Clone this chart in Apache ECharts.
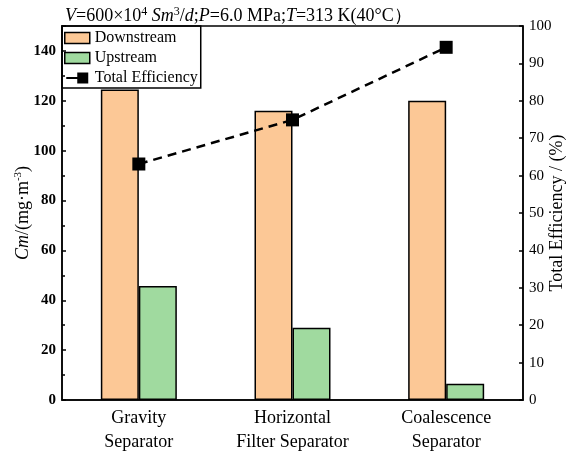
<!DOCTYPE html>
<html>
<head>
<meta charset="utf-8">
<script src="https://cdn.jsdelivr.net/npm/echarts@6/dist/echarts.min.js"></script>
<style>html,body{margin:0;padding:0;background:#fff}#chart{width:570px;height:457px}</style>
</head>
<body>
<div id="chart"></div>
<script>
// Separator types along the x axis
const categories = ['Gravity\nSeparator', 'Horizontal\nFilter Separator', 'Coalescence\nSeparator'];
// Oil mist concentration, mg/m3
const downstream = [124.5, 116, 120];
const upstream = [45.7, 29, 6.5];
// Total separation efficiency, %
const efficiency = [63.1, 74.9, 94.3];

const serif = 'Liberation Serif';
const chart = echarts.init(document.getElementById('chart'));
chart.setOption({
  animation: false,
  textStyle: { fontFamily: serif },
  title: {
    text: '{i|V}=600×10{s|4} {i|Sm}{s|3}/{i|d};{i|P}=6.0 MPa;{i|T}=313 K(40°C）',
    left: 60, top: 1,
    textStyle: {
      fontFamily: serif, fontSize: 18, fontWeight: 'normal', color: '#000',
      rich: {
        i: { fontFamily: serif, fontSize: 18, fontStyle: 'italic', color: '#000' },
        s: { fontFamily: serif, fontSize: 12, verticalAlign: 'top', padding: [0, 0, 9, 0], color: '#000' }
      }
    }
  },
  legend: {
    left: 62, top: 26, orient: 'vertical',
    itemWidth: 25, itemHeight: 11, itemGap: 4,
    padding: [4, 3, 2, 2],
    borderColor: '#000', borderWidth: 1.5,
    textStyle: { fontFamily: serif, fontSize: 16, color: '#000', lineHeight: 16 },
    data: [
      { name: 'Downstream', icon: 'rect', itemStyle: { borderColor: '#000', borderWidth: 1.5 } },
      { name: 'Upstream', icon: 'rect', itemStyle: { borderColor: '#000', borderWidth: 1.5 } },
      // short line stub followed by a square marker
      { name: 'Total Efficiency', icon: 'path://M0,5H12V7H0Z M12,0H24V12H12Z',
        itemStyle: { color: '#000', borderWidth: 0 } }
    ]
  },
  grid: {
    left: 62, right: 47, top: 26, bottom: 57,
    outerBoundsMode: 'none', containLabel: false,
    show: true, borderColor: '#000', borderWidth: 1.5
  },
  xAxis: {
    type: 'category', data: categories,
    axisLine: { lineStyle: { color: '#000', width: 1.5 } },
    axisTick: { show: false },
    axisLabel: { fontFamily: serif, fontSize: 18, color: '#000', lineHeight: 24, margin: 6 }
  },
  yAxis: [
    {
      type: 'value', min: 0, max: 150, interval: 20,
      name: '{i|Cm}/(mg·m{s|-3})', nameLocation: 'middle', nameGap: 29, nameRotate: 90,
      nameMoveOverlap: false,
      nameTextStyle: {
        fontFamily: serif, fontSize: 18, color: '#000',
        rich: {
          i: { fontFamily: serif, fontSize: 18, fontStyle: 'italic', color: '#000' },
          s: { fontFamily: serif, fontSize: 11, verticalAlign: 'top', padding: [0, 0, 9, 0], color: '#000' }
        }
      },
      axisLine: { show: true, lineStyle: { color: '#000', width: 1.5 } },
      axisTick: { show: true, inside: true, length: 4, lineStyle: { color: '#000', width: 1.5 } },
      minorTick: { show: true, splitNumber: 2, length: 3, lineStyle: { color: '#000', width: 1.5 } },
      axisLabel: { fontFamily: serif, fontSize: 15, fontWeight: 'bold', color: '#000', margin: 6,
        formatter: v => (v > 140 ? '' : v) },
      splitLine: { show: false }
    },
    {
      type: 'value', min: 0, max: 100, interval: 10, position: 'right',
      name: 'Total Efficiency / (%)', nameLocation: 'middle', nameGap: 25, nameRotate: 90,
      nameMoveOverlap: false,
      nameTextStyle: { fontFamily: serif, fontSize: 18, color: '#000' },
      axisLine: { show: true, lineStyle: { color: '#000', width: 1.5 } },
      axisTick: { show: true, inside: true, length: 4, lineStyle: { color: '#000', width: 1.5 } },
      axisLabel: { fontFamily: serif, fontSize: 15, color: '#000', margin: 6 },
      splitLine: { show: false }
    }
  ],
  series: [
    {
      name: 'Downstream', type: 'bar', data: downstream, barWidth: 38, barGap: '0%',
      itemStyle: { color: '#FCC896', borderColor: '#000', borderWidth: 1.5 }
    },
    {
      name: 'Upstream', type: 'bar', data: upstream, barWidth: 38,
      itemStyle: { color: '#A0DA9F', borderColor: '#000', borderWidth: 1.5 }
    },
    {
      name: 'Total Efficiency', type: 'line', yAxisIndex: 1, data: efficiency,
      symbol: 'rect', symbolSize: 13,
      lineStyle: { color: '#000', width: 2.5, type: [9, 6] },
      itemStyle: { color: '#000' }
    }
  ]
});
</script>
</body>
</html>
